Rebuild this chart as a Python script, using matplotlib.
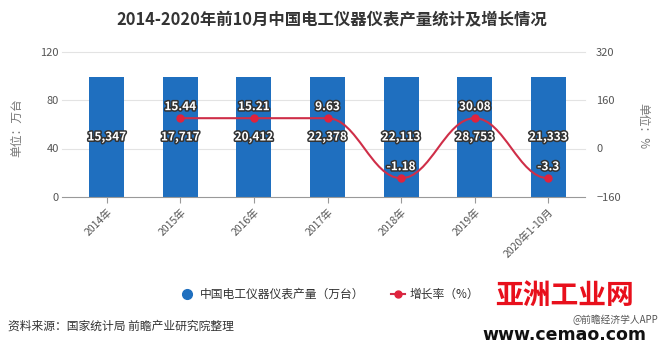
#!/usr/bin/env python3
"""
plot.py
China electrical instrument output 2014-2020 (Jan-Oct) with growth rate.
Saves out.png
"""

import matplotlib
matplotlib.use("Agg")
import matplotlib.pyplot as plt
import matplotlib.patheffects as pe
from matplotlib.path import Path
from matplotlib.patches import PathPatch

plt.rcParams["font.family"] = ["Noto Sans CJK SC", "DejaVu Sans"]

# --- Data ---
years = ["2014年", "2015年", "2016年", "2017年", "2018年", "2019年", "2020年1-10月"]
output_labels = ["15,347", "17,717", "20,412", "22,378", "22,113", "28,753", "21,333"]
# bars in the source are all drawn at the same height on the 0-120 axis
bar_heights = [99, 99, 99, 99, 99, 99, 99]

rate_years = ["2015年", "2016年", "2017年", "2018年", "2019年", "2020年1-10月"]
rate_labels = ["15.44", "15.21", "9.63", "-1.18", "30.08", "-3.3"]
# growth points as drawn on the -160..320 axis
rate_drawn = [100, 100, 100, -98, 100, -98]

BLUE = "#1f6fbf"
RED = "#e0233d"
LINE_RED = "#cf2e48"
GRID = "#e3e3e3"
TICK = "#555555"


def smooth_path(xs, ys, k=0.4):
    # bezier segments with flat tangents at every point
    verts = [(xs[0], ys[0])]
    codes = [Path.MOVETO]
    for i in range(len(xs) - 1):
        dx = xs[i + 1] - xs[i]
        verts += [(xs[i] + k * dx, ys[i]), (xs[i + 1] - k * dx, ys[i + 1]), (xs[i + 1], ys[i + 1])]
        codes += [Path.CURVE4] * 3
    return Path(verts, codes)


def main():
    fig = plt.figure(figsize=(6.6, 3.44), dpi=100)
    ax = fig.add_axes([70 / 660, 1 - 197 / 344, 515 / 660, 145.5 / 344])
    ax2 = ax.twinx()

    x = list(range(len(years)))
    ax.bar(x, bar_heights, width=0.475, color=BLUE, zorder=2)
    ax.set_xlim(-0.5, len(years) - 0.5)
    ax.set_ylim(0, 120)
    ax.set_yticks([0, 40, 80, 120])
    for v in [40, 80, 120]:
        ax.axhline(v, xmin=-0.015, xmax=1.0, color=GRID, lw=0.8, zorder=0, clip_on=False)
    ax.axhline(0, xmin=-0.015, xmax=1.0, color="#999999", lw=0.8, zorder=3, clip_on=False)

    for s in ["top", "right", "left", "bottom"]:
        ax.spines[s].set_visible(False)
        ax2.spines[s].set_visible(False)

    ax.set_xticks(x)
    ax.set_xticklabels(years, rotation=45, ha="right", rotation_mode="anchor",
                       fontsize=7.5, color=TICK)
    ax.tick_params(axis="x", length=4, color="#999999", pad=3)
    ax.tick_params(axis="y", length=0, labelsize=8, colors=TICK, pad=8)

    halo = [pe.withStroke(linewidth=2.2, foreground="#333333")]
    for xi, h, lab in zip(x, bar_heights, output_labels):
        ax.text(xi, 49.5, lab, ha="center", va="center", fontsize=8.5, fontweight="bold",
                color="white", path_effects=halo, zorder=6)

    # growth line on the right axis
    ax2.set_ylim(-160, 320)
    ax2.set_yticks([-160, 0, 160, 320])
    ax2.tick_params(axis="y", length=0, labelsize=8, colors=TICK, pad=8)
    rx = [years.index(y) for y in rate_years]
    patch = PathPatch(smooth_path(rx, rate_drawn), facecolor="none", edgecolor=LINE_RED,
                      lw=1.5, zorder=4)
    ax2.add_patch(patch)
    ax2.plot(rx, rate_drawn, linestyle="none", marker="o", markersize=5,
             color=RED, zorder=5)
    for xi, yv, lab in zip(rx, rate_drawn, rate_labels):
        ax2.text(xi, yv + 38, lab, ha="center", va="center", fontsize=8.5,
                 fontweight="bold", color="white", path_effects=halo, zorder=6)

    # axis unit labels
    fig.text(17 / 660, 1 - 128 / 344, "单位：万台", rotation=90, ha="center", va="center",
             fontsize=8.5, color="#777777")
    fig.text(643 / 660, 1 - 126 / 344, "单位：%", rotation=-90, ha="center", va="center",
             fontsize=8.5, color="#777777")

    # title
    fig.text(332 / 660, 1 - 20 / 344, "2014-2020年前10月中国电工仪器仪表产量统计及增长情况",
             ha="center", va="center", fontsize=11.8, fontweight="bold", color="#333333")

    # legend (drawn by hand to match spacing)
    fig.lines.append(plt.Line2D([187 / 660], [1 - 294 / 344], marker="o", markersize=7,
                                color=BLUE, linestyle="none", transform=fig.transFigure))
    fig.text(200 / 660, 1 - 294 / 344, "中国电工仪器仪表产量（万台）", ha="left", va="center",
             fontsize=8.5, color="#333333")
    fig.lines.append(plt.Line2D([391 / 660, 405 / 660], [1 - 294 / 344] * 2, color=LINE_RED,
                                lw=1.5, transform=fig.transFigure))
    fig.lines.append(plt.Line2D([398 / 660], [1 - 294 / 344], marker="o", markersize=5,
                                color=RED, linestyle="none", transform=fig.transFigure))
    fig.text(410 / 660, 1 - 294 / 344, "增长率（%）", ha="left", va="center",
             fontsize=8.5, color="#333333")

    # footer
    fig.text(8 / 660, 1 - 326 / 344, "资料来源：国家统计局 前瞻产业研究院整理", ha="left",
             va="center", fontsize=8.5, color="#333333")
    fig.text(658 / 660, 1 - 320 / 344, "@前瞻经济学人APP", ha="right", va="center",
             fontsize=7, color="#555555")
    fig.text(564 / 660, 1 - 296 / 344, "亚洲工业网", ha="center", va="center",
             fontsize=20, fontweight="heavy", color="#e8101c")
    fig.text(564 / 660, 1 - 335 / 344, "www.cemao.com", ha="center", va="center",
             fontsize=12.5, fontweight="bold", color="#111111", family="DejaVu Sans")

    fig.savefig("out.png", dpi=100)
    plt.close(fig)


if __name__ == "__main__":
    main()
